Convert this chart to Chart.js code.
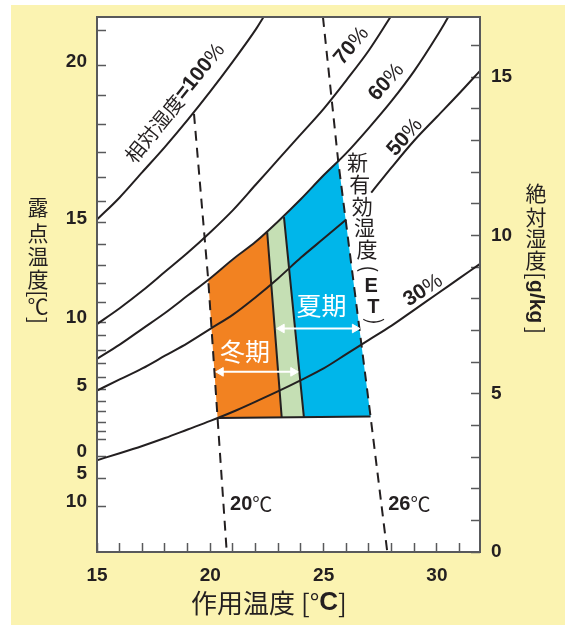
<!DOCTYPE html>
<html>
<head>
<meta charset="utf-8">
<style>
  html, body { margin: 0; padding: 0; background: #fff; }
</style>
</head>
<body>
<canvas id="chart" width="565" height="625"></canvas>
<script src="https://cdn.jsdelivr.net/npm/chart.js@4.4.1/dist/chart.umd.min.js"></script>
<script>
'use strict';

// x = 作用温度 [°C], y = 絶対湿度 [g/kg]
var xTickLabels = [15, 20, 25, 30];
var humidityTickLabels = [0, 5, 10, 15];

// left axis: dew point ticks, placed at their absolute humidity
var dewTickHumidity = [16.47, 15.36, 14.42, 13.50, 12.62, 11.83, 11.07, 10.41, 9.72, 9.05, 8.49, 7.89, 7.26,
    6.85, 6.37, 5.96, 5.52, 5.14, 4.76, 4.45, 4.10, 3.82, 3.56, 3.03, 2.33, 1.45];
var dewTickLabels = ['', '20', '', '', '', '', '', '15', '', '', '', '', '10',
    '', '', '', '', '5', '', '', '', '', '', '0', '5', '10'];

// relative humidity curves
var rh100T = [15, 16, 17, 18, 19, 20, 21, 22, 22.35];
var rh100W = [10.5, 11.2, 12.0, 12.8, 13.65, 14.55, 15.5, 16.5, 16.9];
var rh70T = [15, 16, 17, 18, 19, 20, 21, 22, 23, 24, 25, 26, 27, 27.95];
var rh70W = [7.2, 7.7, 8.25, 8.85, 9.45, 10.1, 10.8, 11.6, 12.4, 13.2, 14.0, 14.9, 15.85, 16.9];
var rh60T = [15, 16, 17, 18, 19, 20, 21, 22, 23, 24, 25, 26, 27, 28, 29, 30, 30.5];
var rh60W = [6.1, 6.55, 7.05, 7.55, 8.1, 8.65, 9.25, 9.8, 10.45, 11.15, 11.9, 12.6, 13.4, 14.25, 15.2, 16.3, 16.9];
var rh50T = [15, 16, 17, 18, 19, 20, 21, 22, 23, 24, 25, 26, 27.1, 28, 29, 30, 31, 31.9];
var rh50W = [5.1, 5.45, 5.8, 6.2, 6.6, 7.05, 7.5, 8.05, 8.65, 9.3, 9.9, 10.5, 11.35, 12.15, 13.0, 13.75, 14.5, 15.2];
var rh30T = [15, 16, 17, 18, 19, 20, 21, 22, 23, 24, 25, 26, 27, 28, 29, 30, 31, 31.9];
var rh30W = [2.9, 3.12, 3.35, 3.6, 3.87, 4.14, 4.43, 4.75, 5.08, 5.43, 5.8, 6.25, 6.7, 7.15, 7.65, 8.15, 8.65, 9.1];

// new effective temperature lines (dashed)
var et20T = [19.28, 19.91, 20.32, 20.72];
var et20W = [13.84, 8.58, 4.23, 0.05];
var et26T = [24.97, 25.64, 27.07, 27.8];
var et26W = [16.9, 12.37, 4.28, 0.05];

// comfort zones
var winterT = [20.32, 19.91, 22.51, 23.15];
var winterW = [4.23, 8.58, 10.10, 4.25];
var middleT = [23.15, 22.51, 23.25, 24.13];
var middleW = [4.25, 10.10, 10.58, 4.25];
var summerT = [24.13, 23.25, 25.64, 27.07];
var summerW = [4.25, 10.58, 12.37, 4.28];

// zone borders
var border1T = [22.51, 23.15];
var border1W = [10.10, 4.25];
var border2T = [23.25, 24.13];
var border2W = [10.58, 4.25];
var bottomT = [20.32, 27.07];
var bottomW = [4.23, 4.28];

// arrows
var winterArrowT = [20.46, 23.66];
var winterArrowW = [5.69, 5.69];
var summerArrowT = [23.15, 26.38];
var summerArrowW = [7.06, 7.06];

var INK = '#231F20';
var AXIS = '#58595B';
var JP = '"Noto Sans CJK JP"';
var LAT = '"Liberation Sans"';

function pts(xs, ys) {
    return xs.map(function (x, i) { return { x: x, y: ys[i] }; });
}

function curve(xs, ys, extra) {
    var ds = {
        data: pts(xs, ys),
        borderColor: INK,
        borderWidth: 2,
        pointRadius: 0,
        cubicInterpolationMode: 'monotone',
        fill: false,
        order: 5
    };
    return Object.assign(ds, extra || {});
}

function zone(xs, ys, color) {
    return {
        data: pts(xs, ys),
        borderColor: 'rgba(0,0,0,0)',
        borderWidth: 0,
        backgroundColor: color,
        pointRadius: 0,
        fill: 'shape',
        order: 20
    };
}

function arrow(xs, ys) {
    return {
        data: pts(xs, ys),
        borderColor: '#fff',
        borderWidth: 2,
        pointStyle: 'triangle',
        pointRadius: 5,
        pointRotation: [270, 90],
        pointBackgroundColor: '#fff',
        pointBorderColor: '#fff',
        pointBorderWidth: 1,
        fill: false,
        order: 1
    };
}

// the 50% line is broken where the 新有効温度 label sits
var rh50Gap = rh50T.indexOf(26) + 1;

function drawRuns(ctx, runs, x, y, align) {
    var total = 0;
    runs.forEach(function (r) { ctx.font = r.font; r.w = ctx.measureText(r.t).width; total += r.w; });
    var cx = align === 'left' ? x : x - total / 2;
    ctx.textAlign = 'left';
    ctx.textBaseline = 'middle';
    runs.forEach(function (r) { ctx.font = r.font; ctx.fillText(r.t, cx, y); cx += r.w; });
}

function drawRotated(ctx, runs, x, y, deg) {
    ctx.save();
    ctx.translate(x, y);
    ctx.rotate(deg * Math.PI / 180);
    drawRuns(ctx, runs, 0, 0, 'center');
    ctx.restore();
}

// upright column of characters, rot items are turned 90° clockwise
function drawColumn(ctx, items, x0, y0, slope) {
    items.forEach(function (it) {
        ctx.save();
        ctx.translate(x0 + it.d * slope, y0 + it.d);
        if (it.rot) ctx.rotate(Math.PI / 2);
        ctx.font = it.font;
        ctx.textAlign = 'center';
        ctx.textBaseline = 'middle';
        ctx.fillText(it.t, 0, 0);
        ctx.restore();
    });
}

var paper = {
    id: 'paper',
    beforeDraw: function (chart) {
        var ctx = chart.ctx, a = chart.chartArea;
        ctx.save();
        ctx.fillStyle = '#fff';
        ctx.fillRect(0, 0, chart.width, chart.height);
        ctx.fillStyle = '#FBF3B1';
        ctx.fillRect(11, 5, chart.width - 11, chart.height - 5);
        ctx.fillStyle = '#fff';
        ctx.fillRect(a.left, a.top, a.right - a.left, a.bottom - a.top);
        ctx.restore();
    },
    afterDatasetsDraw: function (chart) {
        var ctx = chart.ctx, a = chart.chartArea;
        var sx = chart.scales.x, sy = chart.scales.y;
        function P(t, w) { return [sx.getPixelForValue(t), sy.getPixelForValue(w)]; }
        var p;
        ctx.save();
        ctx.fillStyle = INK;

        p = P(18.44, 14.18);
        drawRotated(ctx, [
            { t: '相対湿度', font: '20px ' + JP },
            { t: '=100', font: 'bold 21px ' + LAT },
            { t: '%', font: '21px ' + LAT }
        ], p[0], p[1], -51);

        [[26.23, 15.99, '70', -50], [27.77, 14.84, '60', -48], [28.59, 13.1, '50', -49], [29.39, 8.26, '30', -33]]
            .forEach(function (l) {
                p = P(l[0], l[1]);
                drawRotated(ctx, [
                    { t: l[2], font: 'bold 21px ' + LAT },
                    { t: '%', font: '21px ' + LAT }
                ], p[0], p[1], l[3]);
            });

        p = P(20.87, 1.51);
        drawRuns(ctx, [{ t: '20', font: 'bold 20px ' + LAT }, { t: '℃', font: '20px ' + JP }], p[0], p[1], 'left');
        p = P(27.85, 1.51);
        drawRuns(ctx, [{ t: '26', font: 'bold 20px ' + LAT }, { t: '℃', font: '20px ' + JP }], p[0], p[1], 'left');

        // 新有効温度 label runs along the 26°C line
        p = P(26.49, 12.31);
        var jf = '21px ' + JP, bf = 'bold 20px ' + LAT;
        drawColumn(ctx, [
            { t: '新', d: 0, font: jf }, { t: '有', d: 21.6, font: jf }, { t: '効', d: 43.3, font: jf },
            { t: '湿', d: 65, font: jf }, { t: '度', d: 86.6, font: jf },
            { t: '(', d: 106.6, font: jf, rot: true }, { t: 'E', d: 124.1, font: bf },
            { t: 'T', d: 145, font: bf }, { t: ')', d: 159.1, font: jf, rot: true }
        ], p[0], p[1], 0.11);

        ctx.fillStyle = '#fff';
        p = P(21.53, 6.32);
        drawRuns(ctx, [{ t: '冬期', font: '25px ' + JP }], p[0], p[1], 'center');
        p = P(24.91, 7.79);
        drawRuns(ctx, [{ t: '夏期', font: '25px ' + JP }], p[0], p[1], 'center');

        // axis titles
        ctx.fillStyle = INK;
        drawRuns(ctx, [
            { t: '作用温度 [°', font: '26px ' + JP },
            { t: 'C', font: 'bold 26px ' + LAT },
            { t: ']', font: '26px ' + JP }
        ], 269, 603, 'center');

        var tf = '21px ' + JP;
        drawColumn(ctx, [
            { t: '露', d: 0, font: tf }, { t: '点', d: 26.5, font: tf }, { t: '温', d: 49.3, font: tf },
            { t: '度', d: 72.7, font: tf }, { t: '[', d: 87, font: tf, rot: true },
            { t: '℃', d: 99, font: tf }, { t: ']', d: 113.5, font: tf, rot: true }
        ], 38, 206.7, 0);
        drawColumn(ctx, [
            { t: '絶', d: 0, font: tf }, { t: '対', d: 23.4, font: tf }, { t: '湿', d: 45, font: tf },
            { t: '度', d: 66.7, font: tf }, { t: '[', d: 82.5, font: tf, rot: true },
            { t: 'g/kg', d: 108.4, font: 'bold 21px ' + LAT, rot: true },
            { t: ']', d: 137, font: tf, rot: true }
        ], 536, 193.3, 0);

        // frame
        ctx.strokeStyle = AXIS;
        ctx.lineWidth = 2;
        ctx.strokeRect(a.left, a.top, a.right - a.left, a.bottom - a.top);
        ctx.restore();
    }
};

var tickFont = { family: 'Liberation Sans', size: 19, weight: 'bold' };
var tickGrid = { drawOnChartArea: false, tickLength: -9, tickColor: AXIS, tickWidth: 1.5 };

function fixWidth(w) {
    return function (s) { s.width = w; s.paddingTop = 0; s.paddingBottom = 0; };
}

new Chart(document.getElementById('chart'), {
    type: 'line',
    data: {
        datasets: [
            arrow(winterArrowT, winterArrowW),
            arrow(summerArrowT, summerArrowW),
            curve(et20T, et20W, { borderDash: [10, 7], cubicInterpolationMode: 'default', order: 3 }),
            curve(et26T, et26W, { borderDash: [10, 7], cubicInterpolationMode: 'default', order: 3 }),
            curve(border1T, border1W, { order: 4 }),
            curve(border2T, border2W, { order: 4 }),
            curve(bottomT, bottomW, { order: 4 }),
            curve(rh100T, rh100W),
            curve(rh70T, rh70W),
            curve(rh60T, rh60W),
            curve(rh50T.slice(0, rh50Gap), rh50W.slice(0, rh50Gap)),
            curve(rh50T.slice(rh50Gap), rh50W.slice(rh50Gap)),
            curve(rh30T, rh30W),
            zone(winterT, winterW, '#F28221'),
            zone(middleT, middleW, '#C5DFB4'),
            zone(summerT, summerW, '#00B6EA')
        ]
    },
    options: {
        responsive: false,
        animation: false,
        events: [],
        layout: { padding: { top: 17, left: 0, right: 0, bottom: 0 } },
        plugins: { legend: { display: false }, tooltip: { enabled: false } },
        scales: {
            x: {
                type: 'linear', position: 'bottom', min: 15, max: 31.9,
                ticks: {
                    stepSize: 1, includeBounds: false, autoSkip: false, maxRotation: 0,
                    padding: 21, font: tickFont, color: INK,
                    callback: function (v) { return xTickLabels.indexOf(v) >= 0 ? String(v) : ''; }
                },
                grid: tickGrid,
                border: { display: false },
                afterFit: function (s) { s.height = 73; s.paddingLeft = 0; s.paddingRight = 0; }
            },
            yDew: {
                type: 'linear', position: 'left', min: 0, max: 16.9,
                afterBuildTicks: function (axis) {
                    axis.ticks = dewTickHumidity.map(function (v) { return { value: v }; });
                },
                ticks: {
                    autoSkip: false, padding: 19, labelOffset: -4, font: tickFont, color: INK,
                    callback: function (v, i) { return dewTickLabels[i]; }
                },
                grid: tickGrid,
                border: { display: false },
                afterFit: fixWidth(97)
            },
            y: {
                type: 'linear', position: 'right', min: 0, max: 16.9,
                ticks: {
                    stepSize: 1, includeBounds: false, autoSkip: false,
                    padding: 20, font: tickFont, color: INK,
                    callback: function (v) { return humidityTickLabels.indexOf(v) >= 0 ? String(v) : ''; }
                },
                grid: tickGrid,
                border: { display: false },
                afterFit: fixWidth(85)
            }
        }
    },
    plugins: [paper]
});
</script>
</body>
</html>
